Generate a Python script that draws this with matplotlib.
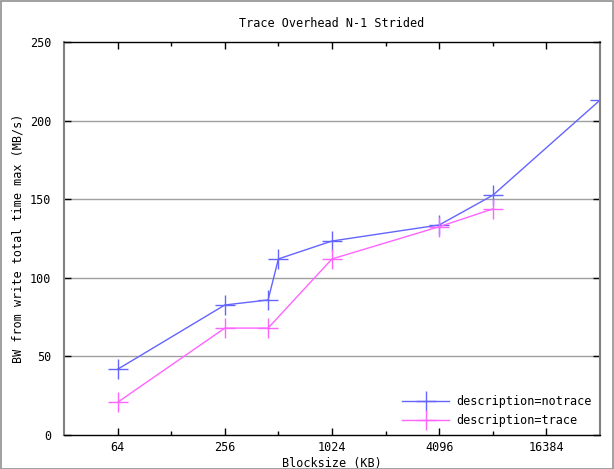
import matplotlib
matplotlib.use("Agg")
import matplotlib.pyplot as plt
from matplotlib.patches import Rectangle
from matplotlib.ticker import FixedLocator, NullFormatter

# data
notrace_x = [64, 256, 448, 512, 1024, 4096, 8192, 32768]
notrace_bw = [41.8, 82.7, 85.9, 112.0, 123.4, 133.6, 152.5, 213.0]
trace_x = [64, 256, 448, 1024, 4096, 8192]
trace_bw = [20.8, 68.0, 68.0, 112.0, 132.5, 143.8]
major_ticks = [64, 256, 1024, 4096, 16384]
minor_ticks = [128, 512, 2048, 8192]
y_ticks = [0, 50, 100, 150, 200, 250]

mono = "DejaVu Sans Mono"
fs = 8.5

fig = plt.figure(figsize=(6.14, 4.69), dpi=100)
ax = fig.add_axes([64 / 614, 34 / 469, 536 / 614, 393 / 469])

ax.plot(notrace_x, notrace_bw, color="#6464ff", lw=1.0, marker="+",
        markersize=14, markeredgewidth=1.0, label="description=notrace")
ax.plot(trace_x, trace_bw, color="#ff64ff", lw=1.0, marker="+",
        markersize=14, markeredgewidth=1.0, label="description=trace")

ax.set_xscale("log", base=2)
ax.set_xlim(32, 32768)
ax.set_ylim(0, 250)
ax.xaxis.set_major_locator(FixedLocator(major_ticks))
ax.xaxis.set_minor_locator(FixedLocator(minor_ticks))
ax.xaxis.set_minor_formatter(NullFormatter())
ax.set_xticklabels([str(t) for t in major_ticks], fontfamily=mono, fontsize=fs)
ax.set_yticks(y_ticks)
ax.set_yticklabels([str(t) for t in y_ticks], fontfamily=mono, fontsize=fs)

ax.tick_params(which="major", direction="in", length=5, width=1,
               top=True, right=True, color="#000000")
ax.tick_params(axis="x", which="major", pad=4)
ax.tick_params(axis="y", which="major", pad=9)
ax.tick_params(which="minor", direction="in", length=3, width=1,
               top=True, right=False, color="#000000")
ax.tick_params(axis="y", which="minor", left=False, right=False)

for y in [50, 100, 150, 200]:
    ax.axhline(y, color="#a0a0a0", lw=1.0, zorder=0)

for s in ax.spines.values():
    s.set_color("#000000")
    s.set_linewidth(1.0)
ax.spines["left"].set_color("#808080")
ax.spines["left"].set_linewidth(1.5)
ax.spines["right"].set_color("#808080")
ax.spines["right"].set_linewidth(1.5)

ax.set_title("Trace Overhead N-1 Strided", fontfamily=mono, fontsize=fs, pad=11)
ax.set_xlabel("Blocksize (KB)", fontfamily=mono, fontsize=fs, va="center")
ax.xaxis.set_label_coords(0.5, -28 / 393)
ax.set_ylabel("BW from write total time max (MB/s)", fontfamily=mono,
              fontsize=fs, va="center")
ax.yaxis.set_label_coords(-46 / 536, 0.5)

ax.legend(loc="lower right", frameon=False, prop={"family": mono, "size": fs},
          handlelength=4.0, handletextpad=0.6, labelspacing=0.45,
          borderaxespad=0.3, bbox_to_anchor=(1.0, 0.0))

fig.patches.append(Rectangle((0.001, 0.001), 0.997, 0.997,
                             transform=fig.transFigure, fill=False,
                             edgecolor="#909090", lw=1.2))

fig.savefig("out.png", dpi=100)
